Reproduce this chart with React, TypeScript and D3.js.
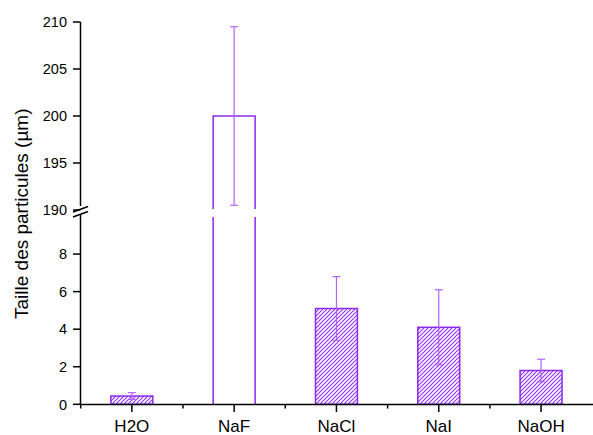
import React from "react";
import * as d3 from "d3";

const categories = ["H2O", "NaF", "NaCl", "NaI", "NaOH"];
const values = [0.44, 200, 5.1, 4.1, 1.8];
const errors = [0.18, 9.5, 1.7, 2.0, 0.6];
const lowTicks = [0, 2, 4, 6, 8];
const highTicks = [190, 195, 200, 205, 210];

const W = 593;
const H = 435;
const FONT = "Arial, 'Liberation Sans', sans-serif";
const BAR_STROKE = "#8A2BF0";
const HATCH = "#9636FF";
const ERR = "#B262FF";

export default function App() {
  const x = d3.scaleBand<string>().domain(categories).range([80.7, 592.2]).padding(0);
  const bw = x.bandwidth() * 0.41;
  const yLow = d3.scaleLinear().domain([0, 10]).range([404.3, 216.5]);
  const yHigh = d3.scaleLinear().domain([190, 210]).range([210, 22]);
  const lowMax = 10;
  const breakTop = 209;
  const breakBot = 217;

  const cx = (c: string) => (x(c) as number) + x.bandwidth() / 2;
  const yv = (v: number) => (v > lowMax ? yHigh(v) : yLow(v));

  return (
    <svg width={W} height={H} style={{ position: "absolute", left: 0, top: 0, background: "#fff" }}>
      <defs>
        <pattern id="hatch" patternUnits="userSpaceOnUse" width={4} height={4}>
          <path d="M-1,1 l2,-2 M0,4 l4,-4 M3,5 l2,-2" stroke={HATCH} strokeWidth={1.2} />
        </pattern>
      </defs>
      <rect x={0} y={0} width={W} height={H} fill="#fff" />
      {/* bars */}
      {categories.map((c, i) => {
        const v = values[i];
        const x0 = cx(c) - bw / 2;
        if (v > lowMax) {
          const yt = yHigh(v);
          return (
            <g key={c}>
              <path
                d={`M${x0},${breakTop} V${yt} H${x0 + bw} V${breakTop}`}
                fill="#fff"
                stroke={BAR_STROKE}
                strokeWidth={1.5}
              />
              <path
                d={`M${x0},${breakBot} V${yLow(0)} M${x0 + bw},${breakBot} V${yLow(0)}`}
                fill="none"
                stroke={BAR_STROKE}
                strokeWidth={1.5}
              />
            </g>
          );
        }
        const yt = yLow(v);
        return (
          <rect
            key={c}
            x={x0}
            y={yt}
            width={bw}
            height={yLow(0) - yt}
            fill="url(#hatch)"
            stroke={BAR_STROKE}
            strokeWidth={1.5}
          />
        );
      })}
      {/* error bars */}
      {categories.map((c, i) => {
        const v = values[i];
        const e = errors[i];
        const xc = cx(c);
        const yTop = yv(v + e);
        const yBot = yv(v - e);
        return (
          <g key={"e" + c} stroke={ERR} strokeWidth={1.2}>
            <line x1={xc} x2={xc} y1={yTop} y2={yBot} />
            <line x1={xc - 4} x2={xc + 4} y1={yTop} y2={yTop} />
            <line x1={xc - 4} x2={xc + 4} y1={yBot} y2={yBot} />
          </g>
        );
      })}
      {/* y axis */}
      <g stroke="#000" strokeWidth={1.5}>
        <line x1={80.5} x2={80.5} y1={yHigh(210)} y2={206} />
        <line x1={80.5} x2={80.5} y1={breakBot - 2} y2={yLow(0)} />
        {highTicks.map((t) => (
          <line key={"ht" + t} x1={73} x2={80.5} y1={yHigh(t)} y2={yHigh(t)} />
        ))}
        {lowTicks.map((t) => (
          <line key={"lt" + t} x1={73} x2={80.5} y1={yLow(t)} y2={yLow(t)} />
        ))}
        <line x1={73} y1={212} x2={88} y2={206.5} />
        <line x1={73} y1={217} x2={88} y2={211.5} />
      </g>
      {highTicks.map((t) => (
        <text key={"hl" + t} x={67} y={yHigh(t)} dy="0.36em" textAnchor="end" fontFamily={FONT} fontSize={14.5}>
          {t}
        </text>
      ))}
      {lowTicks.map((t) => (
        <text key={"ll" + t} x={67} y={yLow(t)} dy="0.36em" textAnchor="end" fontFamily={FONT} fontSize={14.5}>
          {t}
        </text>
      ))}
      {/* x axis */}
      <g stroke="#000" strokeWidth={1.5}>
        <line x1={80} x2={593} y1={404.5} y2={404.5} />
        {categories.map((c) => (
          <line key={"xt" + c} x1={cx(c)} x2={cx(c)} y1={404.5} y2={412} />
        ))}
        {categories.map((c) => (
          <line key={"xm" + c} x1={x(c) as number} x2={x(c) as number} y1={404.5} y2={408.5} />
        ))}
      </g>
      {categories.map((c) => (
        <text key={"xl" + c} x={cx(c)} y={431.5} textAnchor="middle" fontFamily={FONT} fontSize={17}>
          {c}
        </text>
      ))}
      <text
        transform="translate(28,319) rotate(-90)"
        textAnchor="start"
        fontFamily={FONT}
        fontSize={19}
      >
        Taille des particules (µm)
      </text>
    </svg>
  );
}
